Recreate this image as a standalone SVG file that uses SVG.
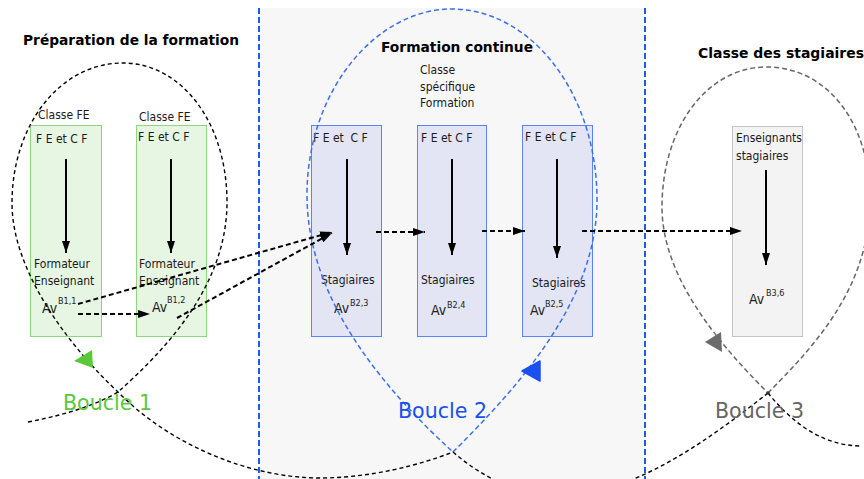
<svg xmlns="http://www.w3.org/2000/svg" width="864" height="479" viewBox="0 0 864 479">
<style>
text{font-family:"DejaVu Sans Condensed","DejaVu Sans",sans-serif;font-stretch:condensed;fill:#1a1a1a}
.t{font-size:12px}
.title{font-family:"DejaVu Sans","Liberation Sans",sans-serif;font-weight:bold;font-size:14px;font-stretch:normal;fill:#000}
.av{font-size:14px;fill:#222}
.sup{font-size:9px;fill:#222}
.bl{font-size:22px}
.gbox{fill:#e7f5e3;stroke:#8fd67a;stroke-width:1}
.bbox{fill:#e3e5f4;stroke:#5b84f5;stroke-width:1}
.xbox{fill:#f3f3f3;stroke:#c4c4c4;stroke-width:1}
.solid{stroke:#000;stroke-width:2;fill:none}
.dash{stroke:#000;stroke-width:2;fill:none;stroke-dasharray:5 3}
.loopk{stroke:#000;stroke-width:1.4;fill:none;stroke-dasharray:4 3}
.loopb{stroke:#3a6ff0;stroke-width:1.5;fill:none;stroke-dasharray:5 3}
.loopg{stroke:#666;stroke-width:1.5;fill:none;stroke-dasharray:5 3}
.vline{stroke:#1e5af0;stroke-width:2;fill:none;stroke-dasharray:6 3}
</style>
<defs>
<marker id="ah" markerUnits="userSpaceOnUse" markerWidth="12" markerHeight="8" refX="12" refY="4" orient="auto">
<path d="M0,0 L12,4 L0,8 z" fill="#000"/>
</marker>
</defs>
<rect x="0" y="0" width="864" height="479" fill="#ffffff"/>
<rect x="259" y="8" width="386" height="471" fill="#f7f7f7"/>
<g id="separators">
<line class="vline" x1="259" y1="8" x2="259" y2="479"/>
<line class="vline" x1="645" y1="8" x2="645" y2="479"/>
</g>
<g id="titles">
<text class="title" x="23" y="45" textLength="216" lengthAdjust="spacingAndGlyphs">Préparation de la formation</text>
<text class="title" x="381" y="52" textLength="152" lengthAdjust="spacingAndGlyphs">Formation continue</text>
<text class="title" x="698" y="58" textLength="166" lengthAdjust="spacingAndGlyphs">Classe des stagiaires</text>
</g>
<g id="node-fe1">
<rect class="gbox" x="30.5" y="125.5" width="71" height="211"/>
<text class="t" x="38" y="119">Classe FE</text>
<text class="t" x="36" y="143">F E et C F</text>
<line class="solid" x1="66" y1="159" x2="66" y2="253" marker-end="url(#ah)"/>
<text class="t" x="34" y="268">Formateur</text>
<text class="t" x="34" y="285">Enseignant</text>
<text class="av" x="42" y="313">Av</text><text class="sup" x="58" y="304">B1,1</text>
</g>
<g id="node-fe2">
<rect class="gbox" x="136.5" y="125.5" width="70" height="211"/>
<text class="t" x="139" y="121">Classe FE</text>
<text class="t" x="138" y="141">F E et C F</text>
<line class="solid" x1="171" y1="159" x2="171" y2="253" marker-end="url(#ah)"/>
<text class="t" x="139" y="268">Formateur</text>
<text class="t" x="139" y="285">Enseignant</text>
<text class="av" x="152" y="312">Av</text><text class="sup" x="167" y="303">B1,2</text>
</g>
<g id="label-csf">
<text class="t" x="420" y="74">Classe</text>
<text class="t" x="420" y="91">spécifique</text>
<text class="t" x="420" y="107">Formation</text>
</g>
<g id="node-fc1">
<rect class="bbox" x="311.5" y="125.5" width="70" height="211"/>
<text class="t" x="313" y="142" xml:space="preserve">F E et  C F</text>
<line class="solid" x1="347" y1="159" x2="347" y2="255" marker-end="url(#ah)"/>
<text class="t" x="321" y="284">Stagiaires</text>
<text class="av" x="334" y="313">Av</text><text class="sup" x="350" y="306">B2,3</text>
</g>
<g id="node-fc2">
<rect class="bbox" x="417.5" y="125.5" width="69" height="211"/>
<text class="t" x="421" y="142">F E et C F</text>
<line class="solid" x1="452" y1="159" x2="452" y2="255" marker-end="url(#ah)"/>
<text class="t" x="421" y="284">Stagiaires</text>
<text class="av" x="431" y="315">Av</text><text class="sup" x="447" y="308">B2,4</text>
</g>
<g id="node-fc3">
<rect class="bbox" x="522.5" y="125.5" width="70" height="211"/>
<text class="t" x="525" y="141">F E et C F</text>
<line class="solid" x1="557" y1="159" x2="557" y2="258" marker-end="url(#ah)"/>
<text class="t" x="532" y="287">Stagiaires</text>
<text class="av" x="530" y="315">Av</text><text class="sup" x="545" y="307">B2,5</text>
</g>
<g id="node-es">
<rect class="xbox" x="732.5" y="126.5" width="70" height="210"/>
<text class="t" x="736" y="142">Enseignants</text>
<text class="t" x="736" y="160">stagiaires</text>
<line class="solid" x1="766" y1="170" x2="766" y2="265" marker-end="url(#ah)"/>
<text class="av" x="749" y="304">Av</text><text class="sup" x="766" y="296">B3,6</text>
</g>
<g id="loops">
<path class="loopk" d="M28,422 C70,414 100,403 118,392 C165,350 228,285 227,200 C226,120 180,63 123,63 C60,63 12,125 12,203 C12,275 75,352 118,392 C170,445 250,478 320,478 C370,478 420,465 453,452"/>
<path class="loopb" d="M453,452 C520,385 597,300 597,200 C597,92 530,9 452,9 C375,9 307,92 307,195 C307,300 385,390 453,452"/>
<path class="loopk" d="M453,452 C560,545 670,470 768,393"/>
<path class="loopg" d="M768,393 C810,350 870,290 870,200 C870,120 825,67 767,67 C705,67 662,130 662,207 C662,275 715,340 768,393"/>
<path class="loopk" d="M768,393 C790,420 820,446 862,446"/>
<circle cx="768" cy="393" r="1.8" fill="#333"/>
<polygon points="74,361 92,350 93,368" fill="#5ac83a"/>
<polygon points="522,371 540,361 540,381" fill="#1a4ff0" stroke="#1a4ff0" stroke-width="1.5" stroke-linejoin="round"/>
<polygon points="705,342 721,332 722,352" fill="#6b6b6b"/>
</g>
<g id="loop-labels">
<text class="bl" x="63" y="410" style="fill:#5ac83a" textLength="89" lengthAdjust="spacingAndGlyphs">Boucle 1</text>
<text class="bl" x="398" y="418" style="fill:#1a4ff0" textLength="89" lengthAdjust="spacingAndGlyphs">Boucle 2</text>
<text class="bl" x="715" y="418" style="fill:#666" textLength="89" lengthAdjust="spacingAndGlyphs">Boucle 3</text>
</g>
<g id="connectors">
<line class="dash" x1="78" y1="314" x2="150" y2="314" marker-end="url(#ah)"/>
<line class="dash" x1="78" y1="304" x2="332" y2="232" marker-end="url(#ah)"/>
<line class="dash" x1="177" y1="318" x2="332" y2="233" marker-end="url(#ah)"/>
<line class="dash" x1="376" y1="232" x2="425" y2="232" marker-end="url(#ah)"/>
<line class="dash" x1="482" y1="231" x2="525" y2="231" marker-end="url(#ah)"/>
<line class="dash" x1="582" y1="231" x2="742" y2="231" marker-end="url(#ah)"/>
</g>
</svg>
